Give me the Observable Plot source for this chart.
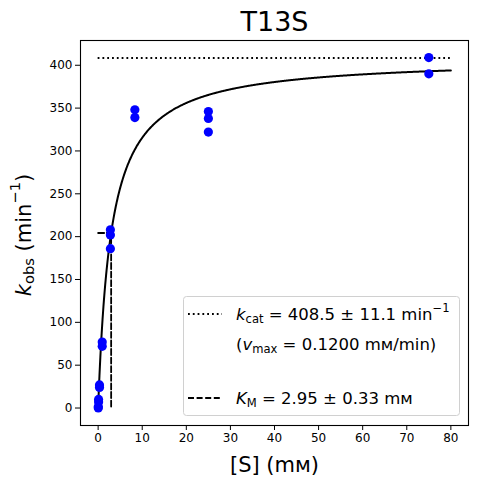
<!DOCTYPE html>
<html><head><meta charset="utf-8">
<script src="https://cdn.jsdelivr.net/npm/d3@7"></script>
<script src="https://cdn.jsdelivr.net/npm/@observablehq/plot@0.6"></script>
<style>body{margin:0;background:#fff} svg{font-family:"DejaVu Sans",sans-serif}</style>
</head><body><div id="chart"></div>
<script>
// measured data: substrate concentration [S] (mM) and observed rate k_obs (min^-1)
const substrate = [0.0343, 0.0343, 0.103, 0.103, 0.309, 0.309, 0.926, 0.926, 2.78, 2.78, 2.78, 8.33, 8.33, 25, 25, 25, 75, 75];
const kobs      = [0,      1.5,    7,     10,    24,    27,    72,    77,    186,  202,  208,  339,  348,  322, 338, 346, 390, 409];
// fit parameters
const kcat = 408.5, kcatErr = 11.1, KM = 2.95, KMErr = 0.33, vmax = 0.1200;
const xTicks = [0, 10, 20, 30, 40, 50, 60, 70, 80];
const yTicks = [0, 50, 100, 150, 200, 250, 300, 350, 400];
const title = "T13S";

const points = substrate.map((s, i) => ({s, k: kobs[i]}));
// Michaelis–Menten fit curve from the fitted parameters
const fitS = d3.range(0, 800.5, 1).map(i => i / 10);
const fit = fitS.map(s => ({s, k: kcat * s / (KM + s)}));
const kmGuide = [{s: 0, k: kcat / 2}, {s: KM, k: kcat / 2}, {s: KM, k: 0}];

const chart = Plot.plot({
  width: 477, height: 484,
  marginTop: 40, marginRight: 9, marginBottom: 59, marginLeft: 80,
  style: {fontFamily: "DejaVu Sans", fontSize: "11.5px", color: "#000", background: "#fff"},
  x: {domain: [-4, 84]},
  y: {domain: [-20.4, 428.9]},
  marks: [
    Plot.ruleY([kcat], {x1: 0, x2: 80, stroke: "#000", strokeWidth: 1.8, strokeDasharray: "1.8,3"}),
    Plot.line(kmGuide, {x: "s", y: "k", stroke: "#000", strokeWidth: 1.8, strokeDasharray: "6,2.6"}),
    Plot.line(fit, {x: "s", y: "k", stroke: "#000", strokeWidth: 2}),
    Plot.dot(points, {x: "s", y: "k", r: 4.6, fill: "#0000ff", stroke: "none"}),
    Plot.frame({stroke: "#000", strokeWidth: 1.1}),
    Plot.axisX({ticks: xTicks, tickSize: 5, tickPadding: 3, fontSize: 12, label: null}),
    Plot.axisY({ticks: yTicks, tickSize: 5, tickPadding: 3, fontSize: 12, label: null}),
    Plot.text([title], {frameAnchor: "top", lineAnchor: "middle", dy: -18, fontSize: 27, fill: "#000"}),
    Plot.text(["[S] (m\u1D0D)"], {frameAnchor: "bottom", lineAnchor: "middle", dy: 40, fontSize: 21, fill: "#000"})
  ]
});
document.getElementById("chart").appendChild(chart);

const svg = d3.select(chart);
function rich(g, x, y, parts, fs, anchor) {
  const t = g.append("text").attr("x", x).attr("y", y).attr("font-size", fs)
    .attr("fill", "#000").attr("text-anchor", anchor || "start").attr("dominant-baseline", "middle");
  let shift = 0;
  parts.forEach(p => {
    const sp = t.append("tspan").text(p.t);
    let target = 0, size = fs;
    if (p.s === "sub") { target = 0.22 * fs; size = 0.7 * fs; }
    if (p.s === "sup") { target = -0.42 * fs; size = 0.7 * fs; }
    sp.attr("dy", target - shift).attr("font-size", size);
    if (p.s === "i") sp.attr("font-style", "italic");
    shift = target;
  });
  return t;
}

// y-axis label
const yl = svg.append("g").attr("transform", "translate(25,235) rotate(-90)");
rich(yl, 0, 0, [{t: "k", s: "i"}, {t: "obs", s: "sub"}, {t: " (min"}, {t: "\u22121", s: "sup"}, {t: ")"}], 21, "middle");

// legend
const lg = svg.append("g");
lg.append("rect").attr("x", 183.5).attr("y", 296.5).attr("width", 276).attr("height", 119)
  .attr("rx", 3).attr("fill", "#fff").attr("fill-opacity", 0.8).attr("stroke", "#d0d0d0");
lg.append("line").attr("x1", 188).attr("x2", 222).attr("y1", 314).attr("y2", 314)
  .attr("stroke", "#000").attr("stroke-width", 1.8).attr("stroke-dasharray", "1.8,3");
lg.append("line").attr("x1", 188).attr("x2", 222).attr("y1", 398).attr("y2", 398)
  .attr("stroke", "#000").attr("stroke-width", 1.8).attr("stroke-dasharray", "6,2.6");
const fs = 16.5;
rich(lg, 236, 315, [{t: "k", s: "i"}, {t: "cat", s: "sub"}, {t: ` = ${kcat.toFixed(1)} \u00B1 ${kcatErr.toFixed(1)} min`}, {t: "\u22121", s: "sup"}], fs);
rich(lg, 236, 345, [{t: "("}, {t: "v", s: "i"}, {t: "max", s: "sub"}, {t: ` = ${vmax.toFixed(4)} m\u1D0D/min)`}], fs);
rich(lg, 236, 399, [{t: "K", s: "i"}, {t: "M", s: "sub"}, {t: ` = ${KM.toFixed(2)} \u00B1 ${KMErr.toFixed(2)} m\u1D0D`}], fs);
</script>
</body></html>
